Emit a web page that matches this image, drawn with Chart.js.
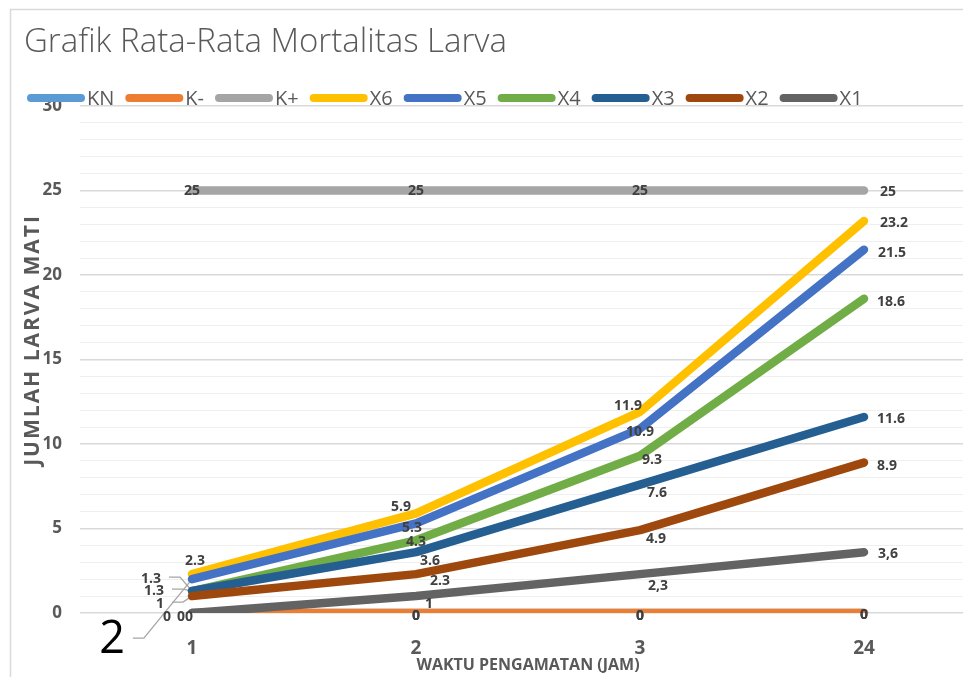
<!DOCTYPE html>
<html>
<head>
<meta charset="utf-8">
<script src="https://cdn.jsdelivr.net/npm/chart.js@4.4.0/dist/chart.umd.min.js"></script>
<style>
  html, body { margin: 0; padding: 0; background: #fff; overflow: hidden; }
  #wrap { width: 990px; height: 677px; }
</style>
</head>
<body>
<div id="wrap"><canvas id="mortalityChart" width="990" height="677"></canvas></div>
<script>
// Rata-rata mortalitas larva per jam pengamatan
const categories = ['1', '2', '3', '24'];
const seriesNames = ['KN', 'K-', 'K+', 'X6', 'X5', 'X4', 'X3', 'X2', 'X1'];
const kn = [0, 0, 0, 0];
const kMinus = [0, 0, 0, 0];
const kPlus = [25, 25, 25, 25];
const x6 = [2.3, 5.9, 11.9, 23.2];
const x5 = [2, 5.3, 10.9, 21.5];
const x4 = [1.3, 4.3, 9.3, 18.6];
const x3 = [1.3, 3.6, 7.6, 11.6];
const x2 = [1, 2.3, 4.9, 8.9];
const x1 = [0, 1, 2.3, 3.6];
const yMin = 0;
const yMax = 30;
const yLabelStep = 5;

const seriesValues = [kn, kMinus, kPlus, x6, x5, x4, x3, x2, x1];
const seriesColors = ['#5B9BD5', '#ED7D31', '#A5A5A5', '#FFC000', '#4472C4', '#70AD47', '#255E91', '#9E480E', '#636363'];

// data label spot relative to its point: [dx, dy, kind]
// kind: 'left' = text starts at dx, 'leader' = leader line back to point, 'big' = the oversized dragged label
const labelPlacement = {
    'KN': [[-11, 4], [0, 3], [0, 3], [0, 2]],
    'K-': [[-3, 4], [0, 3], [0, 3], [0, 2]],
    'K+': [[0, 1], [0, 1], [0, 1], [16, 2, 'left']],
    'X6': [[3, -13], [-15, -6], [-12, -6], [16, 2, 'left']],
    'X5': [[-80, 61, 'big'], [-4, 5], [0, 3], [14, 3, 'left']],
    'X4': [[-41, -12, 'leader'], [0, 2], [12, 4], [13, 3, 'left']],
    'X3': [[-38, 0, 'leader'], [14, 9], [17, 8], [13, 2, 'left']],
    'X2': [[-32, 8, 'leader'], [24, 7], [16, 9], [13, 3, 'left']],
    'X1': [[-25, 4], [13, 8], [18, 12], [14, 2, 'left']]
};
const commaSeries = ['X1'];

const FONT = "'Open Sans', 'DejaVu Sans', sans-serif";
const GREY_TEXT = '#595959';
const LABEL_TEXT = '#404040';

function formatValue(name, v) {
    const s = String(v);
    return commaSeries.includes(name) ? s.replace('.', ',') : s;
}

function labelFont(kind) {
    return kind === 'big' ? `400 45px ${FONT}` : `700 14px ${FONT}`;
}

const frameAndTitle = {
    id: 'frameAndTitle',
    beforeDraw(chart) {
        const ctx = chart.ctx;
        ctx.save();
        ctx.fillStyle = '#ffffff';
        ctx.fillRect(0, 0, chart.width, chart.height);
        ctx.strokeStyle = '#d9d9d9';
        ctx.lineWidth = 1.5;
        ctx.strokeRect(10.5, 9.5, chart.width + 20, chart.height + 20);
        ctx.fillStyle = GREY_TEXT;
        ctx.font = `300 33px ${FONT}`;
        ctx.textBaseline = 'alphabetic';
        ctx.textAlign = 'left';
        ctx.fillText('Grafik Rata-Rata Mortalitas Larva', 24, 52);
        ctx.restore();
    },
    afterDraw(chart) {
        const ctx = chart.ctx;
        const area = chart.chartArea;
        ctx.save();
        ctx.fillStyle = GREY_TEXT;
        ctx.textAlign = 'center';
        ctx.textBaseline = 'middle';
        ctx.font = `700 16px ${FONT}`;
        ctx.fillText('WAKTU PENGAMATAN (JAM)', (area.left + area.right) / 2, 665);
        ctx.translate(33, 340);
        ctx.rotate(-Math.PI / 2);
        ctx.font = `700 21px ${FONT}`;
        ctx.letterSpacing = '2px';
        ctx.fillText('JUMLAH LARVA MATI', 0, 0);
        ctx.restore();
    }
};

const lineLegend = {
    id: 'lineLegend',
    afterDraw(chart) {
        const ctx = chart.ctx;
        ctx.save();
        ctx.font = `400 20px ${FONT}`;
        ctx.textBaseline = 'middle';
        ctx.textAlign = 'left';
        let x = 27;
        const y = 98;
        chart.data.datasets.forEach(ds => {
            ctx.strokeStyle = ds.borderColor;
            ctx.lineWidth = 8;
            ctx.lineCap = 'round';
            ctx.beginPath();
            ctx.moveTo(x + 4, y);
            ctx.lineTo(x + 54, y);
            ctx.stroke();
            ctx.fillStyle = GREY_TEXT;
            ctx.fillText(ds.label, x + 60, y + 1);
            x += 60 + ctx.measureText(ds.label).width + 11;
        });
        ctx.restore();
    }
};

function eachLabel(chart, fn) {
    chart.data.datasets.forEach((ds, i) => {
        const meta = chart.getDatasetMeta(i);
        const spots = labelPlacement[ds.label];
        meta.data.forEach((pt, j) => {
            const [dx, dy, kind] = spots[j];
            fn(ds, pt, ds.data[j], dx, dy, kind);
        });
    });
}

const dataLabels = {
    id: 'dataLabels',
    beforeDatasetsDraw(chart) {
        // leader lines sit under the series lines
        const ctx = chart.ctx;
        ctx.save();
        ctx.strokeStyle = '#a6a6a6';
        ctx.lineWidth = 1.3;
        eachLabel(chart, (ds, pt, v, dx, dy, kind) => {
            if (kind !== 'leader' && kind !== 'big') return;
            ctx.font = labelFont(kind);
            const w = ctx.measureText(formatValue(ds.label, v)).width;
            const sx = pt.x + dx + w / 2 + 8;
            const sy = pt.y + dy - 2;
            ctx.beginPath();
            ctx.moveTo(sx, sy);
            ctx.lineTo(sx + 11, sy);
            ctx.lineTo(pt.x, pt.y);
            ctx.stroke();
        });
        ctx.restore();
    },
    afterDatasetsDraw(chart) {
        const ctx = chart.ctx;
        ctx.save();
        ctx.textBaseline = 'middle';
        eachLabel(chart, (ds, pt, v, dx, dy, kind) => {
            ctx.font = labelFont(kind);
            ctx.fillStyle = kind === 'big' ? '#000000' : LABEL_TEXT;
            ctx.textAlign = kind === 'left' ? 'left' : 'center';
            ctx.fillText(formatValue(ds.label, v), pt.x + dx, pt.y + dy);
        });
        ctx.restore();
    }
};

const datasets = seriesNames.map((name, i) => ({
    label: name,
    data: seriesValues[i],
    borderColor: seriesColors[i],
    backgroundColor: seriesColors[i],
    borderWidth: 8.5,
    borderCapStyle: 'round',
    borderJoinStyle: 'round',
    pointRadius: 0,
    tension: 0,
    fill: false,
    // later series paint over earlier ones, like Excel
    order: seriesNames.length - i
}));

new Chart(document.getElementById('mortalityChart').getContext('2d'), {
    type: 'line',
    data: { labels: categories, datasets },
    options: {
        responsive: false,
        animation: false,
        layout: { padding: { top: 106, left: 10, right: 14, bottom: 0 } },
        plugins: {
            legend: { display: false },
            tooltip: { enabled: false },
            title: { display: false }
        },
        scales: {
            x: {
                offset: true,
                grid: { display: false, drawTicks: false },
                border: { display: false },
                ticks: {
                    color: GREY_TEXT,
                    font: { family: FONT, size: 19, weight: '700' },
                    padding: 24
                },
                afterFit(scale) { scale.height = 64; }
            },
            y: {
                min: yMin,
                max: yMax,
                border: { display: false },
                grid: {
                    drawTicks: false,
                    color: c => c.tick.value % yLabelStep === 0 ? '#d9d9d9' : '#efefef',
                    lineWidth: c => c.tick.value % yLabelStep === 0 ? 1.5 : 1
                },
                ticks: {
                    stepSize: 1,
                    autoSkip: false,
                    color: GREY_TEXT,
                    font: { family: FONT, size: 17, weight: '700' },
                    padding: 18,
                    callback: v => v % yLabelStep === 0 ? v : ''
                },
                afterFit(scale) { scale.width = 70; }
            }
        }
    },
    plugins: [frameAndTitle, lineLegend, dataLabels]
});
</script>
</body>
</html>
